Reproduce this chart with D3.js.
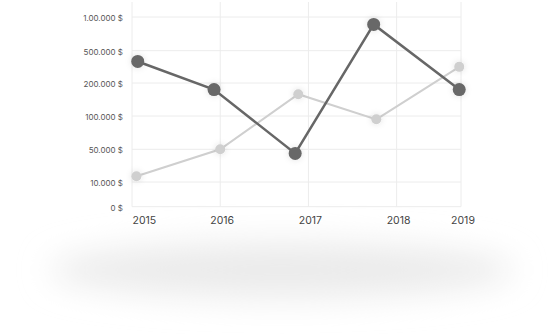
<!DOCTYPE html>
<html>
<head>
<meta charset="utf-8">
<script src="https://cdn.jsdelivr.net/npm/d3@7"></script>
<style>
  body { margin: 0; background: #fff; }
  svg { display: block; }
  svg text { font-family: Inter, "Open Sans", sans-serif; }
</style>
</head>
<body>
<div class="svg-container"></div>
<script>
// data
const yTicks = [0, 10000, 50000, 100000, 200000, 500000, 1000000];
const yLabels = ['0 $', '10.000 $', '50.000 $', '100.000 $', '200.000 $', '500.000 $', '1.00.000 $'];
const xTicks = [2015, 2016, 2017, 2018, 2018.73];
const xLabels = ['2015', '2016', '2017', '2018', '2019'];

const darkDates = [2015.065, 2015.93, 2016.85, 2017.74, 2018.71];
const darkValues = [400000, 180000, 45000, 890000, 180000];
const lightDates = [2015.05, 2016.0, 2016.885, 2017.77, 2018.71];
const lightValues = [17000, 50000, 166000, 95000, 350000];

const renderChart = () => {
  const width = 560;
  const height = 334;
  const plot = { left: 132, right: 461, top: 2, bottom: 206.7 };

  const svg = d3.select('.svg-container')
    .append('svg')
    .attr('width', width)
    .attr('height', height);

  const defs = svg.append('defs');
  defs.append('filter')
    .attr('id', 'floor')
    .attr('x', '-50%').attr('y', '-100%')
    .attr('width', '200%').attr('height', '300%')
    .append('feGaussianBlur')
    .attr('stdDeviation', 16);
  const dot = defs.append('filter')
    .attr('id', 'dot')
    .attr('x', '-100%').attr('y', '-100%')
    .attr('width', '300%').attr('height', '300%');
  dot.append('feDropShadow')
    .attr('dx', 0).attr('dy', 0)
    .attr('stdDeviation', 3)
    .attr('flood-color', '#000')
    .attr('flood-opacity', 0.12);

  // soft shadow under the card
  svg.append('ellipse')
    .attr('cx', 282).attr('cy', 270)
    .attr('rx', 232).attr('ry', 28)
    .attr('fill', '#ebebeb')
    .attr('filter', 'url(#floor)');

  const x = d3.scaleLinear()
    .domain([2015, 2018.73])
    .range([plot.left, plot.right]);

  // piecewise scale, each tick gets its own row
  const y = d3.scaleLinear()
    .domain(yTicks)
    .range([plot.bottom, 182, 149.3, 116, 83, 50.7, 17]);

  // grid
  const grid = svg.append('g').attr('stroke', '#ececec').attr('stroke-width', 1);
  grid.selectAll('.h')
    .data(yTicks)
    .enter()
    .append('line')
    .attr('x1', plot.left)
    .attr('x2', plot.right)
    .attr('y1', d => y(d))
    .attr('y2', d => y(d));
  grid.selectAll('.v')
    .data(xTicks)
    .enter()
    .append('line')
    .attr('x1', d => x(d))
    .attr('x2', d => x(d))
    .attr('y1', plot.top)
    .attr('y2', plot.bottom);

  // axes
  const yAxis = svg.append('g')
    .attr('transform', `translate(${plot.left},0)`)
    .call(d3.axisLeft(y).tickValues(yTicks).tickSize(0).tickPadding(9)
      .tickFormat((d, i) => yLabels[i]));
  yAxis.attr('font-family', null);
  yAxis.select('.domain').remove();
  yAxis.selectAll('text')
    .attr('dy', '0.45em')
    .attr('fill', '#555')
    .style('font-size', '8px');

  const xAxis = svg.append('g')
    .attr('transform', `translate(0,${plot.bottom})`)
    .call(d3.axisBottom(x).tickValues(xTicks).tickSize(0).tickPadding(10)
      .tickFormat((d, i) => xLabels[i]));
  xAxis.attr('font-family', null);
  xAxis.select('.domain').remove();
  xAxis.selectAll('text')
    .attr('fill', '#444')
    .attr('dx', (d, i) => i === 0 ? 0 : 1.5)
    .attr('text-anchor', (d, i) => i === 0 ? 'start' : 'middle')
    .style('font-size', '10.5px');

  const line = d3.line()
    .x(d => x(d[0]))
    .y(d => y(d[1]));

  const series = [
    { dates: lightDates, values: lightValues, color: '#cfcfcf', width: 2, r: 5 },
    { dates: darkDates, values: darkValues, color: '#676767', width: 2.5, r: 6.5 }
  ];

  series.forEach(s => {
    const pts = s.dates.map((d, i) => [d, s.values[i]]);
    svg.append('path')
      .datum(pts)
      .attr('fill', 'none')
      .attr('stroke', s.color)
      .attr('stroke-width', s.width)
      .attr('d', line);
    svg.append('g')
      .selectAll('circle')
      .data(pts)
      .enter()
      .append('circle')
      .attr('cx', d => x(d[0]))
      .attr('cy', d => y(d[1]))
      .attr('r', s.r)
      .attr('fill', s.color)
      .attr('filter', 'url(#dot)');
  });
};

renderChart();
</script>
</body>
</html>
